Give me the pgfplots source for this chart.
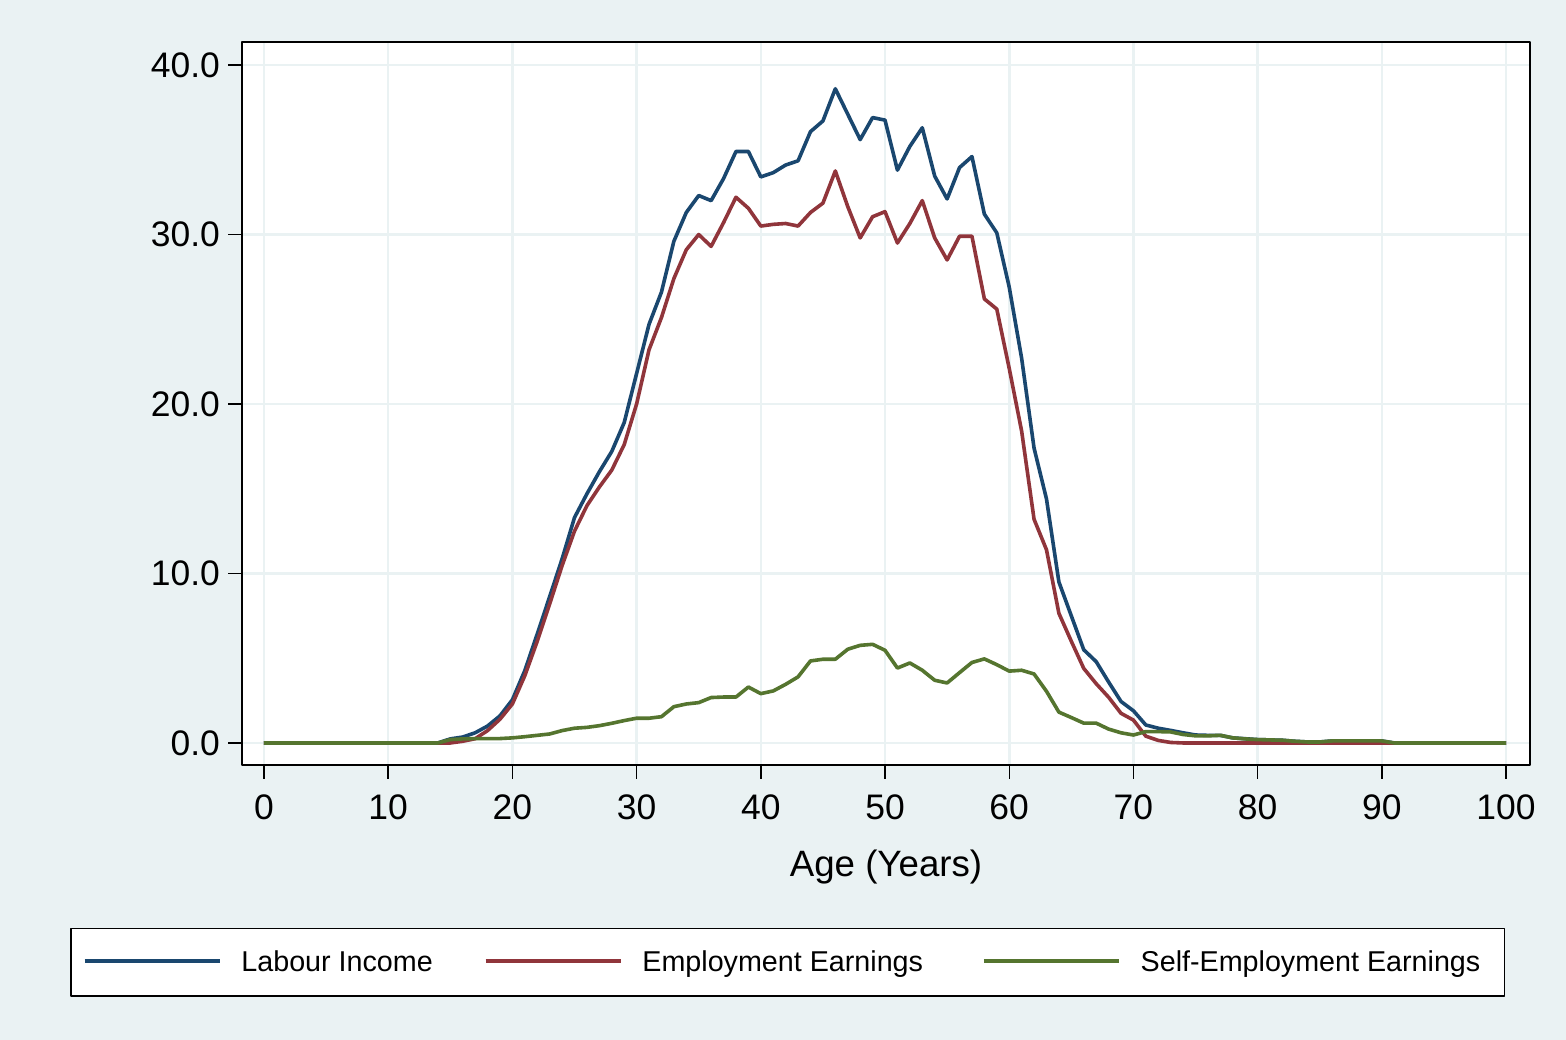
\documentclass[border=0pt]{standalone}
\usepackage{fontspec}
\setmainfont{Liberation Sans}
\usepackage{pgfplots}
\usepackage{pgfplotstable}
\pgfplotsset{compat=1.18}
\definecolor{bgc}{RGB}{234,242,243}
\definecolor{snavy}{RGB}{26,71,111}
\definecolor{smaroon}{RGB}{144,53,59}
\definecolor{sgreen}{RGB}{85,117,47}

\pgfplotstableread{
age lab emp self
0 0 0 0
1 0 0 0
2 0 0 0
3 0 0 0
4 0 0 0
5 0 0 0
6 0 0 0
7 0 0 0
8 0 0 0
9 0 0 0
10 0 0 0
11 0 0 0
12 0 0 0
13 0 0 0
14 0 0 0
15 0.24 0 0.2
16 0.35 0.1 0.24
17 0.6 0.25 0.26
18 1.0 0.73 0.26
19 1.6 1.4 0.26
20 2.55 2.3 0.3
21 4.27 3.97 0.37
22 6.43 6.0 0.45
23 8.63 8.2 0.53
24 10.86 10.46 0.73
25 13.3 12.5 0.87
26 14.7 14.0 0.92
27 16.0 15.1 1.02
28 17.2 16.1 1.16
29 18.9 17.6 1.32
30 21.8 20.0 1.46
31 24.7 23.2 1.46
32 26.6 25.1 1.55
33 29.6 27.4 2.14
34 31.3 29.1 2.3
35 32.3 30.0 2.38
36 32.0 29.3 2.68
37 33.3 30.7 2.71
38 34.9 32.2 2.71
39 34.9 31.55 3.3
40 33.4 30.5 2.91
41 33.65 30.6 3.07
42 34.1 30.65 3.46
43 34.35 30.5 3.9
44 36.07 31.3 4.84
45 36.7 31.85 4.94
46 38.6 33.75 4.94
47 37.1 31.65 5.53
48 35.6 29.8 5.76
49 36.9 31.05 5.82
50 36.75 31.35 5.47
51 33.8 29.5 4.42
52 35.2 30.65 4.72
53 36.3 32.0 4.29
54 33.45 29.8 3.7
55 32.1 28.5 3.54
56 33.95 29.9 4.15
57 34.6 29.9 4.75
58 31.2 26.2 4.96
59 30.1 25.6 4.62
60 26.9 22.1 4.24
61 22.7 18.4 4.29
62 17.4 13.2 4.07
63 14.4 11.4 3.05
64 9.5 7.65 1.82
65 7.5 6.0 1.5
66 5.5 4.4 1.17
67 4.8 3.5 1.17
68 3.6 2.7 0.82
69 2.45 1.75 0.6
70 1.9 1.35 0.47
71 1.06 0.4 0.67
72 0.87 0.15 0.67
73 0.74 0.03 0.65
74 0.6 0 0.5
75 0.47 0 0.42
76 0.45 0 0.42
77 0.45 0 0.45
78 0.3 0 0.3
79 0.25 0 0.24
80 0.2 0 0.2
81 0.18 0 0.18
82 0.16 0 0.16
83 0.1 0 0.1
84 0.06 0 0.06
85 0.06 0 0.06
86 0.12 0 0.12
87 0.12 0 0.12
88 0.12 0 0.12
89 0.12 0 0.12
90 0.12 0 0.12
91 0 0 0
92 0 0 0
93 0 0 0
94 0 0 0
95 0 0 0
96 0 0 0
97 0 0 0
98 0 0 0
99 0 0 0
100 0 0 0
}\datatable

\begin{document}
\begin{tikzpicture}
\fill[bgc] (0,0) rectangle (783bp,520bp);
\begin{axis}[
  at={(121bp,137.5bp)}, anchor=south west,
  scale only axis, width=644bp, height=361.5bp,
  xmin=-1.77, xmax=101.93, ymin=-1.3, ymax=41.36,
  axis background/.style={fill=white},
  axis line style={black, line width=0.8bp},
  xtick={0,10,...,100}, ytick={0,10,20,30,40},
  xticklabels={0,10,20,30,40,50,60,70,80,90,100},
  yticklabels={0.0,10.0,20.0,30.0,40.0},
  xtick pos=bottom, ytick pos=left,
  tick align=outside, major tick length=7bp,
  tick style={black, line width=0.7bp},
  grid=major, major grid style={bgc, line width=1.3bp},
  x tick label style={font=\fontsize{17.8}{21}\selectfont, inner sep=0pt, anchor=base, yshift=-20.5bp},
  y tick label style={font=\fontsize{17.8}{21}\selectfont, inner sep=0pt, anchor=east, xshift=-3.85bp},
  xlabel={Age (Years)},
  every axis x label/.style={at={(axis description cs:0.5,0)}, anchor=base, yshift=-55.85bp, font=\fontsize{18.4}{22}\selectfont},
  legend style={at={(-0.13354,-0.32089)}, anchor=south west, draw=black, line width=0.8bp, fill=white,
    inner xsep=6bp, inner ysep=11bp, font=\fontsize{14.4}{17}\selectfont,
    nodes={inner sep=0pt},
    /tikz/every odd column/.append style={column sep=10bp},
    /tikz/column 2/.append style={column sep=25.5bp},
    /tikz/column 4/.append style={column sep=29.5bp}},
  legend columns=3, legend cell align=left,
  legend image code/.code={\draw[#1] (0bp,0.8bp) -- (67.5bp,0.8bp);},
  line join=round,
]
\addplot[snavy, line width=1.8bp] table[x=age, y=lab] {\datatable};
\addlegendentry{Labour Income}
\addplot[smaroon, line width=1.8bp] table[x=age, y=emp] {\datatable};
\addlegendentry{Employment Earnings}
\addplot[sgreen, line width=1.8bp] table[x=age, y=self] {\datatable};
\addlegendentry{Self-Employment Earnings\rule{6bp}{0pt}}
\end{axis}
\pgfresetboundingbox
\path[use as bounding box] (0,0) rectangle (783bp,520bp);
\end{tikzpicture}
\end{document}
